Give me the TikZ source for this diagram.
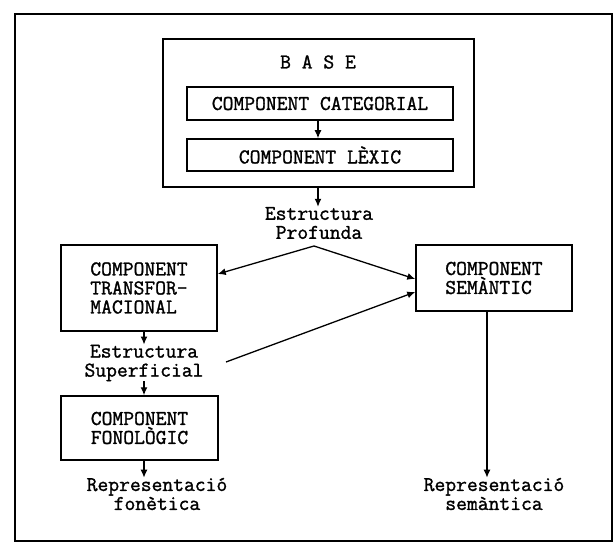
\documentclass[tikz,border=0pt]{standalone}
\usepackage{fontspec}
\setmonofont{Latin Modern Mono}[FakeBold=1.3]
\usetikzlibrary{arrows.meta,calc}
\begin{document}
\begin{tikzpicture}[x=1pt,y=-1pt,
  every node/.style={font=\ttfamily\fontsize{21}{19}\selectfont, inner sep=0pt},
  box/.style={draw, line width=1.5pt, align=left},
  lbl/.style={align=center},
  arr/.style={line width=1.3pt, -{Latex[length=8pt,width=7pt]}}]
\useasboundingbox (0,0) rectangle (616,545);
\draw[line width=1.8pt] (15,14) rectangle (612,541);
% base block
\node[box, minimum width=311pt, minimum height=148pt] (base) at (318.5,113) {};
\node (basetxt) at (318,62) {B A S E};
\node[box, minimum width=266pt, minimum height=33pt] (cat) at (320,103.5) {COMPONENT CATEGORIAL};
\node[box, minimum width=266pt, minimum height=32pt] (lex) at (320,155) {COMPONENT LÈXIC};
\draw[arr] (cat.south -| basetxt) -- (lex.north -| basetxt);
% deep structure
\node[lbl] (prof) at (319,223) {Estructura\\Profunda};
\draw[arr] (base.south -| basetxt) -- (prof.north -| basetxt);
\coordinate (pfork) at (314,246);
% components
\node[box, minimum width=156pt, minimum height=86pt] (trans) at (139,288) {COMPONENT\\TRANSFOR-\\MACIONAL};
\node[box, minimum width=156pt, minimum height=66pt] (sem) at (494,278) {COMPONENT\\SEMÀNTIC};
\draw[arr] (pfork) -- ([yshift=14pt]trans.east);
\draw[arr] (pfork) -- ([yshift=-1pt]sem.west);
% surface structure
\node[lbl] (sup) at (144,363) {Estructura\\Superficial};
\draw[arr] (trans.south -| sup) -- (sup.north);
\coordinate (supout) at (226,362);
\draw[arr] (supout) -- ([yshift=-14pt]sem.west);
\node[box, minimum width=157pt, minimum height=64pt] (fon) at (139.5,428) {COMPONENT\\FONOLÒGIC};
\draw[arr] (sup.south) -- (fon.north -| sup);
% representations
\node[lbl] (repf) at (157,494) {Representació\\fonètica};
\draw[arr] (fon.south -| sup) -- (repf.north -| sup);
\node[lbl] (reps) at (494,494) {Representació\\semàntica};
\draw[arr] ([xshift=-7pt]sem.south) -- ([xshift=-7pt]reps.north);
\end{tikzpicture}
\end{document}
